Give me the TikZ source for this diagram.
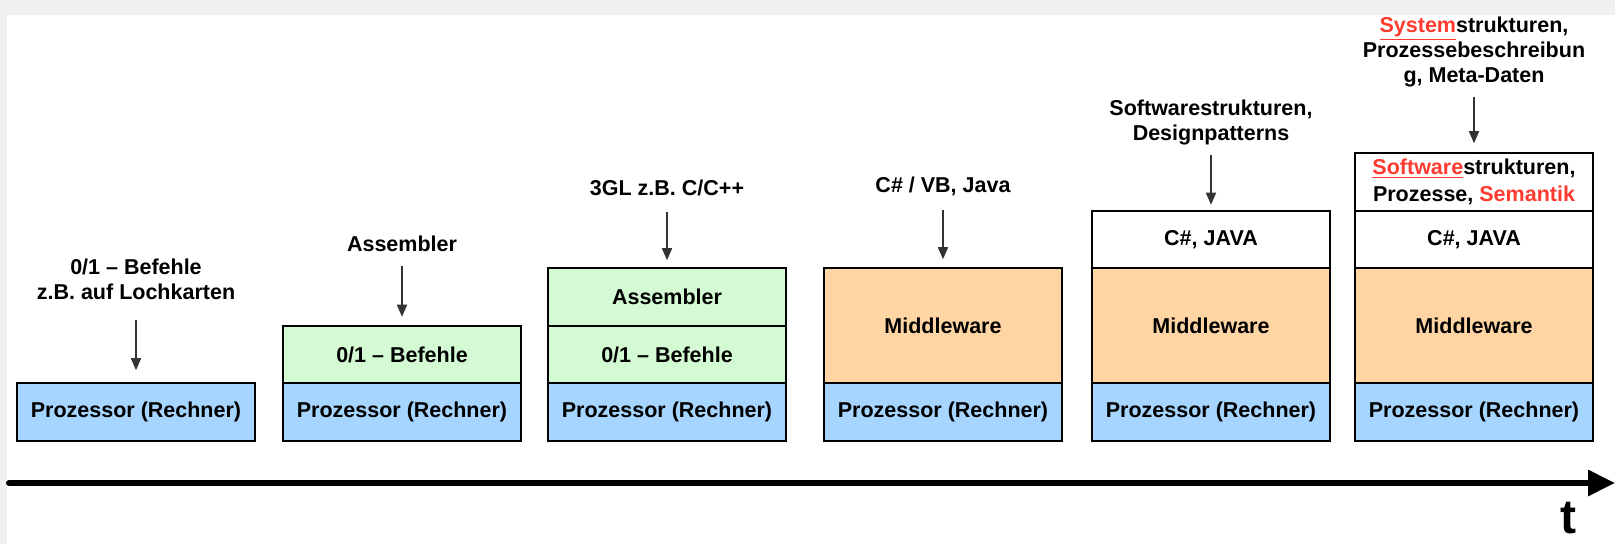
\documentclass[tikz,border=0pt]{standalone}
\usepackage{fontspec}
\setmainfont{Liberation Sans}
\usetikzlibrary{positioning,arrows.meta}
\definecolor{layerblue}{HTML}{A6D5FF}
\definecolor{layergreen}{HTML}{D3FAD3}
\definecolor{layerorange}{HTML}{FFD5A3}
\definecolor{hired}{HTML}{FF3B30}
\definecolor{pagegray}{HTML}{F0F0F0}
\newcommand{\redul}[1]{\textcolor{hired}{\underline{#1}}}

\begin{document}
\begin{tikzpicture}[x=0.5pt,y=-0.5pt,
      font=\fontsize{10.75}{12.5}\selectfont\bfseries,
      layer/.style={draw,line width=1pt,outer sep=0pt,inner sep=0pt,minimum width=119pt,minimum height=28.75pt,align=center},
      tall/.style={layer,minimum height=57.5pt},
      tech/.style={inner sep=0pt,align=center},
      down/.style={-{Triangle[length=6pt,width=5pt]},line width=0.75pt,draw=black!80,shorten <=7pt,shorten >=4.5pt}]
    \useasboundingbox (0,0) rectangle (1615,544);
    \fill[pagegray] (0,0) rectangle (1615,544);
    \fill[white] (7,15) rectangle (1615,544);

    % Prozessor-Ebene
    \node[layer,fill=layerblue] (proc1) at (136,412) {Prozessor (Rechner)};
    \node[layer,fill=layerblue] (proc2) at (402,412) {Prozessor (Rechner)};
    \node[layer,fill=layerblue] (proc3) at (667,412) {Prozessor (Rechner)};
    \node[layer,fill=layerblue] (proc4) at (943,412) {Prozessor (Rechner)};
    \node[layer,fill=layerblue] (proc5) at (1211,412) {Prozessor (Rechner)};
    \node[layer,fill=layerblue] (proc6) at (1474,412) {Prozessor (Rechner)};

    % Schichten darueber
    \node[layer,fill=layergreen,above=0pt of proc2] (bits2) {0/1 -- Befehle};
    \node[layer,fill=layergreen,above=0pt of proc3] (bits3) {0/1 -- Befehle};
    \node[layer,fill=layergreen,above=0pt of bits3] (asm3) {Assembler};
    \node[tall,fill=layerorange,above=0pt of proc4] (mw4) {Middleware};
    \node[tall,fill=layerorange,above=0pt of proc5] (mw5) {Middleware};
    \node[layer,fill=white,above=0pt of mw5] (lang5) {C\#, JAVA};
    \node[tall,fill=layerorange,above=0pt of proc6] (mw6) {Middleware};
    \node[layer,fill=white,above=0pt of mw6] (lang6) {C\#, JAVA};
    \node[layer,fill=white,above=0pt of lang6] (sem6) {\redul{Software}strukturen,\\[1pt] Prozesse, \textcolor{hired}{Semantik}};

    % Beschriftungen
    \node[tech] (lab1) at (136,279) {0/1 -- Befehle\\z.B. auf Lochkarten};
    \node[tech] (lab2) at (402,244) {Assembler};
    \node[tech] (lab3) at (667,188) {3GL z.B. C/C++};
    \node[tech] (lab4) at (943,186) {C\# / VB, Java};
    \node[tech] (lab5) at (1211,122) {Softwarestrukturen,\\Designpatterns};
    \node[tech] (lab6) at (1474,52) {\redul{System}strukturen,\\Prozessebeschreibun\\g, Meta-Daten};

    \draw[down,shorten <=10pt,shorten >=6.5pt] (lab1) -- (proc1);
    \draw[down,shorten >=4.5pt] (lab2) -- (bits2);
    \draw[down,shorten <=8pt,shorten >=4pt] (lab3) -- (asm3);
    \draw[down] (lab4) -- (mw4);
    \draw[down,shorten <=5pt,shorten >=3pt] (lab5) -- (lang5);
    \draw[down,shorten <=5pt,shorten >=5pt] (lab6) -- (sem6);

    % Zeitachse
    \coordinate (tstart) at (9,483);
    \coordinate (tend) at (1615,483);
    \draw[line width=3pt,line cap=round,-{Triangle[length=13.5pt,width=12.5pt]}] (tstart) -- (tend);
    \node[inner sep=0pt,font=\fontsize{24}{24}\selectfont\bfseries] (tlab) at (1568,518) {t};
\end{tikzpicture}
\end{document}
